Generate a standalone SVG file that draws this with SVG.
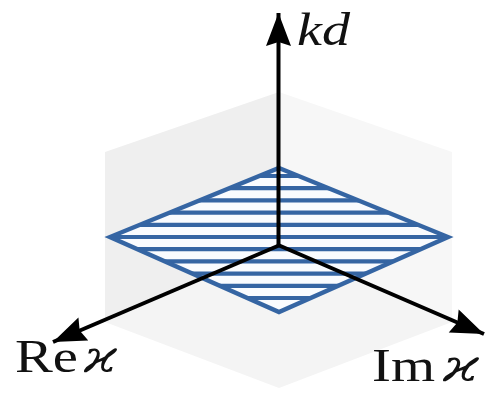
<svg xmlns="http://www.w3.org/2000/svg" width="485" height="403" viewBox="0 0 485 403">
  <style>
    .axis { stroke: #000; stroke-width: 4; fill: none; marker-end: url(#stealth); }
    .stripe { stroke: #3565a3; stroke-width: 4.2; }
    .outline { stroke: #3565a3; stroke-width: 4.4; fill: none; stroke-linejoin: miter; }
    .lbl { font-family: "Liberation Serif", "DejaVu Serif", serif; font-size: 46px; fill: #111; }
    .it { font-style: italic; }
    .kap { font-family: "DejaVu Serif", "Liberation Serif", serif; font-style: italic; font-size: 44px; fill: #111; }
  </style>
  <defs>
    <marker id="stealth" markerUnits="userSpaceOnUse" viewBox="-36 -15 38 30" markerWidth="38" markerHeight="30" refX="0" refY="0" orient="auto">
      <path d="M0,0 L-33,-12.5 L-29,0 L-33,12.5 Z" fill="#000"/>
    </marker>
    <clipPath id="diamondClip">
      <polygon points="279,168 448,237 279,312 110,237"/>
    </clipPath>
  </defs>
  <rect width="485" height="403" fill="#ffffff"/>
  <g id="box">
    <polygon points="105,152 279,92 279,245 105,322" fill="#efefef"/>
    <polygon points="279,92 452,152 452,322 279,245" fill="#f7f7f7"/>
    <polygon points="279,245 452,322 279,388 105,322" fill="#f4f4f4"/>
  </g>
  <g id="plane">
    <polygon points="279,168 448,237 279,312 110,237" fill="#f9fbfe"/>
    <g clip-path="url(#diamondClip)">
      <line class="stripe" x1="100" y1="176" x2="460" y2="176"/>
      <line class="stripe" x1="100" y1="188.2" x2="460" y2="188.2"/>
      <line class="stripe" x1="100" y1="200.4" x2="460" y2="200.4"/>
      <line class="stripe" x1="100" y1="212.6" x2="460" y2="212.6"/>
      <line class="stripe" x1="100" y1="224.8" x2="460" y2="224.8"/>
      <line class="stripe" x1="100" y1="237" x2="460" y2="237"/>
      <line class="stripe" x1="100" y1="249.2" x2="460" y2="249.2"/>
      <line class="stripe" x1="100" y1="261.4" x2="460" y2="261.4"/>
      <line class="stripe" x1="100" y1="273.6" x2="460" y2="273.6"/>
      <line class="stripe" x1="100" y1="285.8" x2="460" y2="285.8"/>
      <line class="stripe" x1="100" y1="298" x2="460" y2="298"/>
    </g>
    <polygon class="outline" points="279,168 448,237 279,312 110,237"/>
  </g>
  <g id="axes">
    <line id="axis-kd" class="axis" x1="278.5" y1="247" x2="278.5" y2="13"/>
    <line id="axis-re" class="axis" x1="280" y1="245" x2="53" y2="342"/>
    <line id="axis-im" class="axis" x1="277" y1="244.5" x2="484" y2="334"/>
  </g>
  <g id="labels">
    <text class="lbl it" x="297" y="45" font-size="50" textLength="53" lengthAdjust="spacingAndGlyphs">kd</text>
    <text class="lbl" x="15" y="372" textLength="63" lengthAdjust="spacingAndGlyphs">Re</text>
    <text class="kap" x="84" y="372" textLength="33" lengthAdjust="spacingAndGlyphs">ϰ</text>
    <text class="lbl" x="372" y="381" textLength="63" lengthAdjust="spacingAndGlyphs">Im</text>
    <text class="kap" x="443" y="381" textLength="36" lengthAdjust="spacingAndGlyphs">ϰ</text>
  </g>
</svg>
